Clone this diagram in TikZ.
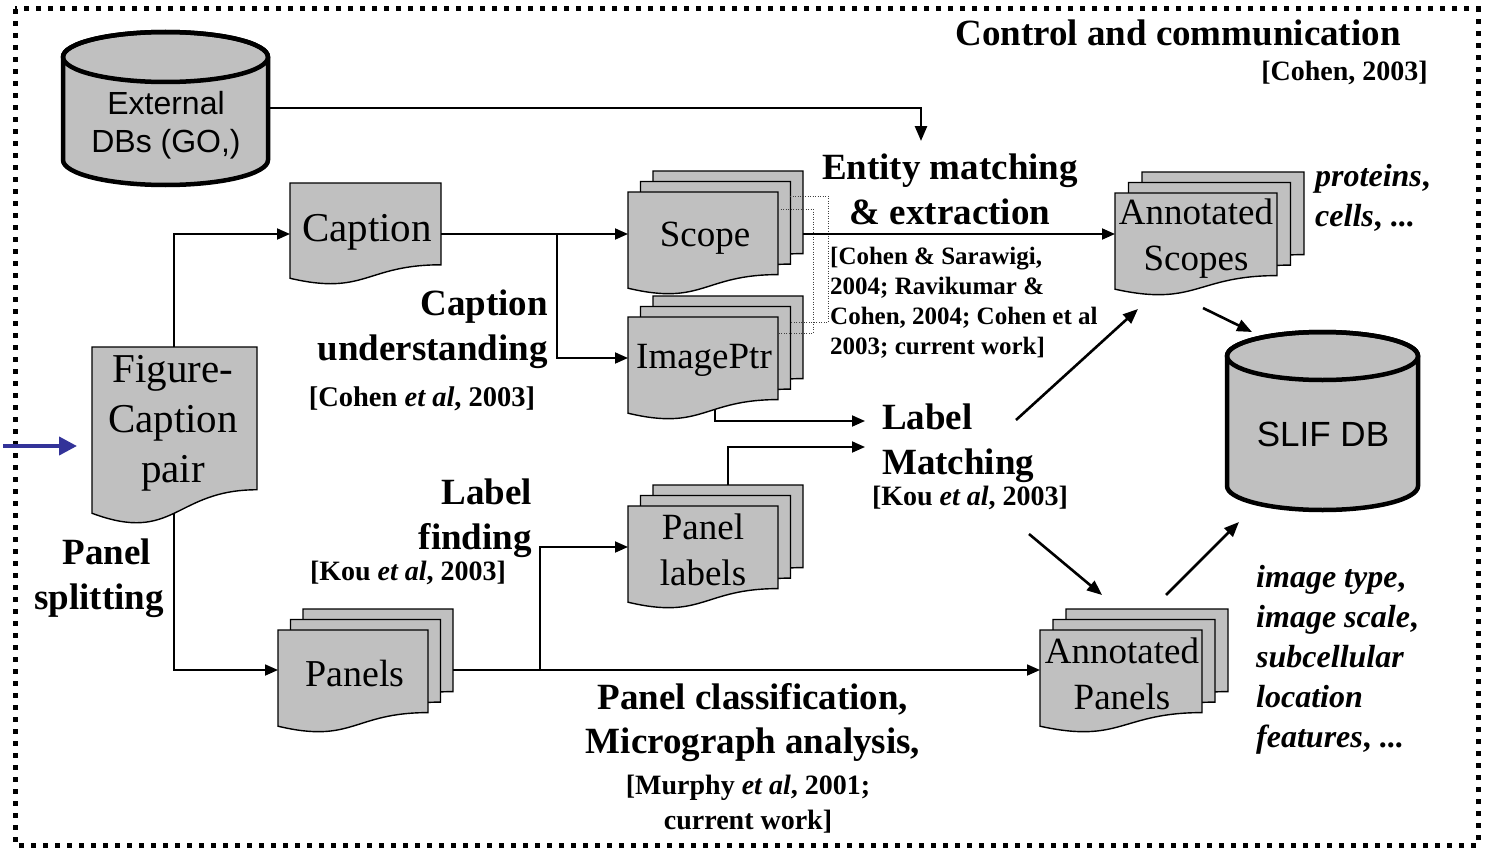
\documentclass[tikz,border=0pt]{standalone}
\usepackage{fontspec}
\setmainfont{Liberation Serif}
\newfontfamily\arialf{Liberation Sans}
\usetikzlibrary{arrows.meta}
\definecolor{docgray}{RGB}{192,192,192}
\definecolor{inblue}{RGB}{51,51,153}

\newcommand{\docshape}[4]{%
  \pgfmathsetmacro{\dxr}{#1+#3}%
  \pgfmathsetmacro{\dxm}{#1+0.5*#3}%
  \pgfmathsetmacro{\dyr}{#2+0.802*#4}%
  \pgfmathsetmacro{\dyd}{#2+1.1075*#4}%
  \pgfmathsetmacro{\dyl}{#2+0.934*#4}%
  \filldraw[docst] (#1,#2) -- (\dxr,#2) -- (\dxr,\dyr) .. controls (\dxm,\dyr) and (\dxm,\dyd) .. (#1,\dyl) -- cycle;}
\newcommand{\docstack}[6]{%
  \pgfmathsetmacro{\sxa}{#1+2*#5}\pgfmathsetmacro{\sya}{#2-2*#6}%
  \pgfmathsetmacro{\sxb}{#1+#5}\pgfmathsetmacro{\syb}{#2-#6}%
  \docshape{\sxa}{\sya}{#3}{#4}%
  \docshape{\sxb}{\syb}{#3}{#4}%
  \docshape{#1}{#2}{#3}{#4}}
\newcommand{\dbcyl}[5]{%
  \pgfmathsetmacro{\crx}{(#2-#1)/2}%
  \pgfmathsetmacro{\ccx}{(#1+#2)/2}%
  \filldraw[cylst] (#1,#3) -- (#1,#4) arc[start angle=180,end angle=360,x radius=\crx pt,y radius=#5pt] -- (#2,#3) arc[start angle=0,end angle=180,x radius=\crx pt,y radius=#5pt] -- cycle;
  \draw[cylst,fill=none] (\ccx,#3) ellipse [x radius=\crx pt,y radius=#5pt];}

\begin{document}
\begin{tikzpicture}[x=1pt,y=-1pt,
  docst/.style={fill=docgray,draw=black,line width=1.4pt},
  cylst/.style={fill=docgray,draw=black,line width=4.5pt},
  conn/.style={line width=1.8pt,-{Triangle[length=13pt,width=11pt]}},
  thickconn/.style={line width=2.6pt,-{Triangle[length=15pt,width=12pt]}},
  dotconn/.style={line width=1pt,draw=black!75,dash pattern=on 1pt off 1.5pt},
  bold37/.style={font=\fontsize{37}{45}\selectfont\bfseries,inner sep=0pt},
  cite28/.style={font=\fontsize{28}{35}\selectfont\bfseries,inner sep=0pt},
  reg37/.style={font=\fontsize{37}{46}\selectfont,inner sep=0pt,align=center},
  bi32/.style={font=\fontsize{32}{40}\selectfont\bfseries,inner sep=0pt,align=left,anchor=west}]
\useasboundingbox (0,0) rectangle (1505,851);

% frame
\draw[line width=5pt,dash pattern=on 5pt off 7pt] (15,9) rectangle (1478,845);

% title
\node (title) [bold37] at (1178,33) {Control and communication};
\node (titlecite) [cite28,anchor=east] at (1428,73) {[Cohen, 2003]};

% external DBs
\dbcyl{63}{268}{57}{160}{25}
\node (extdb) [font=\arialf\fontsize{32}{38}\selectfont,align=center,inner sep=0pt] at (166,125) {External\\DBs (GO,)};
\coordinate (extE) at (268,108);
\coordinate (entityN) at (921,141);

% figure-caption pair
\docshape{92}{347}{165}{178}
\node (figcap) [font=\fontsize{41}{50}\selectfont,align=center,inner sep=0pt] at (173,423) {Figure-\\Caption\\pair};
\coordinate (figN) at (174,347);
\coordinate (figS) at (174,513);
\coordinate (inStart) at (3,446);
\coordinate (inEnd) at (77,446);

% caption
\docshape{290}{183}{151}{102}
\node (caption) [font=\fontsize{41}{50}\selectfont,inner sep=0pt] at (367,232) {Caption};
\coordinate (capW) at (290,234);
\coordinate (capE) at (441,234);
\coordinate (capbr) at (557,234);

% scope
\docstack{628}{192}{150}{103}{12.5}{10.5}
\node (scope) [reg37] at (705,238) {Scope};
\coordinate (scopeW) at (628,234);
\coordinate (scopeE) at (803,234);

% imageptr
\docstack{628}{317}{150}{103}{12.5}{10.5}
\node (imageptr) [reg37] at (704,360) {ImagePtr};
\coordinate (imgW) at (628,358);
\coordinate (imgS) at (715,410);

% dotted brackets
\coordinate (dA1) at (790,196); \coordinate (dA2) at (828,196);
\coordinate (dA3) at (828,322); \coordinate (dA4) at (790,322);
\coordinate (dB1) at (778,209); \coordinate (dB2) at (813,209);
\coordinate (dB3) at (813,333); \coordinate (dB4) at (778,333);
\draw[dotconn] (dA1) -- (dA2) -- (dA3) -- (dA4);
\draw[dotconn] (dB1) -- (dB2) -- (dB3) -- (dB4);

% panel labels
\docstack{628}{506}{150}{103}{12.5}{10.5}
\node (panellabels) [reg37] at (703,550) {Panel\\labels};
\coordinate (plW) at (628,547);
\coordinate (plN) at (728,485);

% panels
\docstack{278}{630}{150}{103}{12.5}{10.5}
\node (panels) [font=\fontsize{38}{46}\selectfont,inner sep=0pt] at (355,673) {Panels};
\coordinate (panelsW) at (278,670);
\coordinate (panelsE) at (453,670);
\coordinate (pbr) at (540,670);

% annotated scopes
\docstack{1115}{193}{162}{103}{13.5}{10.5}
\node (annscopes) [reg37] at (1196,239) {Annotated\\Scopes};
\coordinate (asW) at (1115,234);

% annotated panels
\docstack{1040}{630}{162}{103}{13}{10.5}
\node (annpanels) [reg37] at (1122,674) {Annotated\\Panels};
\coordinate (apW) at (1040,670);

% SLIF DB
\dbcyl{1227}{1418}{356}{486}{24}
\node (slif) [font=\arialf\fontsize{35}{42}\selectfont,inner sep=0pt] at (1323,434) {SLIF DB};

% labels
\node (entity) [bold37,align=center] at (950,189) {Entity matching\\\& extraction};
\node (entcite) [font=\fontsize{25}{30}\selectfont\bfseries,inner sep=0pt,align=left,anchor=west] at (830,303) {[Cohen \& Sarawigi,\\2004; Ravikumar \&\\Cohen, 2004; Cohen et al\\2003; current work]};
\node (capund) [bold37,align=right,anchor=east] at (548,329) {Caption\\understanding};
\node (capcite) [font=\fontsize{28.5}{35}\selectfont\bfseries,inner sep=0pt] at (422,399) {[Cohen \textit{et al}, 2003]};
\node (labmatch) [bold37,align=left,anchor=west] at (882,443) {Label\\Matching};
\node (lmcite) [cite28] at (970,498) {[Kou \textit{et al}, 2003]};
\node (labfind) [bold37,align=right,anchor=east] at (532,518) {Label\\finding};
\node (lfcite) [cite28] at (408,573) {[Kou \textit{et al}, 2003]};
\node (pansplit) [bold37,align=center] at (99,578) {\hspace*{16pt}Panel\\splitting};
\node (panclass) [bold37,align=center,font=\fontsize{37}{44}\selectfont\bfseries] at (753,723) {Panel classification,\\Micrograph analysis,};
\node (murphy) [cite28,align=center] at (748,804) {[Murphy \textit{et al}, 2001;\\current work]};
\node (proteins) [bi32] at (1315,198) {\textit{proteins},\\\textit{cells}, ...};
\node (imgtype) [bi32] at (1256,660) {\textit{image type},\\\textit{image scale},\\\textit{subcellular}\\\textit{location}\\\textit{features}, ...};

\coordinate (lmIn1) at (865,421);
\coordinate (lmIn2) at (865,447);
\coordinate (d1s) at (1016,420); \coordinate (d1e) at (1138,309);
\coordinate (d2s) at (1029,534); \coordinate (d2e) at (1102,595);
\coordinate (d3s) at (1166,595); \coordinate (d3e) at (1239,522);
\coordinate (d4s) at (1203,308); \coordinate (d4e) at (1252,332);

% connectors
\draw[line width=4pt,draw=inblue,-{Triangle[length=18pt,width=18pt]},inblue] (inStart) -- (inEnd);
\draw[thickconn] (extE) -| (entityN);
\draw[conn] (figN) |- (capW);
\draw[conn] (figS) |- (panelsW);
\draw[conn] (capE) -- (scopeW);
\draw[conn] (capbr) |- (imgW);
\draw[conn] (scopeE) -- (asW);
\draw[conn] (imgS) |- (lmIn1);
\draw[conn] (plN) |- (lmIn2);
\draw[conn] (panelsE) -- (apW);
\draw[conn] (pbr) |- (plW);
\draw[thickconn] (d1s) -- (d1e);
\draw[thickconn] (d2s) -- (d2e);
\draw[thickconn] (d3s) -- (d3e);
\draw[thickconn] (d4s) -- (d4e);
\end{tikzpicture}
\end{document}
